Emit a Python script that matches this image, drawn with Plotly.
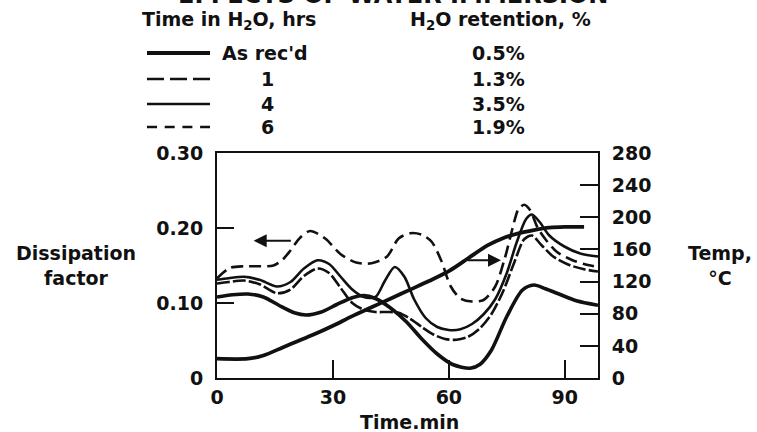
import plotly.graph_objects as go

# ---------------- data ----------------
# Dissipation factor curves (left axis), time in minutes
t_asrec = [0, 4, 8, 12, 16, 20, 23, 27, 31, 35, 38, 41, 45, 49, 53, 57, 61, 65.5, 68, 71, 75, 79, 82, 85, 88, 93, 98.6]
df_asrec = [0.108, 0.111, 0.112, 0.108, 0.097, 0.087, 0.084, 0.088, 0.098, 0.107, 0.110, 0.106, 0.093, 0.075, 0.052, 0.032, 0.018, 0.013, 0.018, 0.037, 0.082, 0.117, 0.124, 0.119, 0.113, 0.103, 0.097]

t_1h = [0, 3.4, 7, 10, 14.6, 17, 19, 21.5, 24.1, 28, 32, 36, 40, 44, 47, 50, 53, 55.5, 58, 60.5, 63, 66, 69, 72, 74.5, 76.5, 78, 79.5, 81, 83, 85, 88, 92, 95, 98.6]
df_1h = [0.133, 0.147, 0.149, 0.149, 0.150, 0.158, 0.170, 0.187, 0.196, 0.186, 0.165, 0.154, 0.153, 0.162, 0.186, 0.193, 0.191, 0.182, 0.157, 0.122, 0.106, 0.102, 0.104, 0.122, 0.160, 0.200, 0.225, 0.231, 0.224, 0.200, 0.185, 0.168, 0.157, 0.152, 0.148]

t_4h = [0, 3, 7, 11, 15.5, 19, 22.5, 26, 29, 32, 35, 38, 41, 43.5, 46, 48.5, 51, 54, 57, 60, 63, 66, 69, 72, 75, 77.5, 80, 81.5, 83.5, 86, 90, 94, 98.6]
df_4h = [0.131, 0.133, 0.135, 0.131, 0.122, 0.128, 0.146, 0.157, 0.152, 0.135, 0.118, 0.108, 0.108, 0.130, 0.148, 0.135, 0.105, 0.080, 0.068, 0.064, 0.065, 0.072, 0.085, 0.105, 0.140, 0.180, 0.212, 0.218, 0.208, 0.190, 0.175, 0.166, 0.162]

t_6h = [0, 3, 7, 11, 15.5, 19, 22.5, 26, 29, 32, 35, 38, 41, 44, 47, 50, 53, 56, 59, 62, 65, 68, 71, 74, 77, 79.5, 81.5, 84, 87, 91, 95, 98.6]
df_6h = [0.126, 0.128, 0.130, 0.125, 0.113, 0.118, 0.136, 0.146, 0.140, 0.120, 0.100, 0.091, 0.088, 0.088, 0.087, 0.079, 0.068, 0.058, 0.052, 0.051, 0.055, 0.066, 0.085, 0.115, 0.155, 0.185, 0.190, 0.177, 0.162, 0.151, 0.145, 0.142]

# Temperature curve (right axis)
t_temp = [0, 8, 12, 17, 21, 25, 30, 35, 40, 45, 50, 55, 60, 65, 70, 74, 78, 82, 86, 90, 95]
temp_c = [24, 24, 28, 38, 46, 54, 65, 77, 88, 99, 110, 121, 133, 149, 165, 174, 180, 184, 187, 188, 188]

# Legend table
legend_labels = ["As rec'd", "1", "4", "6"]
retention = ["0.5%", "1.3%", "3.5%", "1.9%"]

# Axis ticks
x_ticks = [0, 30, 60, 90]
y_ticks = [0, 0.10, 0.20, 0.30]
y_ticktext = ["0", "0.10", "0.20", "0.30"]
y2_ticks = [0, 40, 80, 120, 160, 200, 240, 280]

# ---------------- layout helpers ----------------
W, H = 757, 432
L, R, T, B = 217, 159, 153, 54
PW, PH = W - L - R, H - T - B


def px(xp):
    return (xp - L) / PW


def py(yp):
    return (H - B - yp) / PH


FONT = "DejaVu Sans"
BLACK = "#111111"

fig = go.Figure()

dash_1h = "12px,6px"
dash_6h = "13px,3px"

fig.add_trace(go.Scatter(x=t_1h, y=df_1h, mode="lines",
                         line=dict(color=BLACK, width=2.6, dash=dash_1h, shape="spline", smoothing=0.8)))
fig.add_trace(go.Scatter(x=t_6h, y=df_6h, mode="lines",
                         line=dict(color=BLACK, width=2.6, dash=dash_6h, shape="spline", smoothing=0.8)))
fig.add_trace(go.Scatter(x=t_4h, y=df_4h, mode="lines",
                         line=dict(color=BLACK, width=2.6, shape="spline", smoothing=0.8)))
fig.add_trace(go.Scatter(x=t_asrec, y=df_asrec, mode="lines",
                         line=dict(color=BLACK, width=3.6, shape="spline", smoothing=0.8)))
fig.add_trace(go.Scatter(x=t_temp, y=temp_c, mode="lines", yaxis="y2",
                         line=dict(color=BLACK, width=3.8, shape="spline", smoothing=0.8)))

tickfont = dict(family=FONT, size=19, color=BLACK, weight="bold")

fig.update_layout(
    width=W, height=H,
    margin=dict(l=L, r=R, t=T, b=B, pad=0),
    paper_bgcolor="white", plot_bgcolor="white",
    showlegend=False,
    xaxis=dict(range=[0, 98.6], tickvals=x_ticks, ticks="inside", ticklen=18, tickwidth=2,
               tickcolor=BLACK, showline=True, linecolor=BLACK, linewidth=2, mirror=True,
               showgrid=False, zeroline=False, tickfont=tickfont, ticklabelstandoff=1),
    yaxis=dict(range=[0, 0.30], tickvals=y_ticks, ticktext=y_ticktext, ticks="inside", ticklen=17,
               tickwidth=2, tickcolor=BLACK, showline=True, linecolor=BLACK, linewidth=2,
               showgrid=False, zeroline=False, tickfont=tickfont, ticklabelstandoff=8),
    yaxis2=dict(range=[0, 280], tickvals=y2_ticks, overlaying="y", side="right", ticks="inside",
                ticklen=18, tickwidth=2, tickcolor=BLACK, showline=True, linecolor=BLACK, linewidth=2,
                showgrid=False, zeroline=False, tickfont=tickfont, ticklabelstandoff=8),
)

ann_font = dict(family=FONT, size=19, color=BLACK, weight="bold")
annotations = []

# clipped title at very top (only the bottom of the glyphs shows, as in the reference)
annotations.append(dict(text="EFFECTS OF WATER IMMERSION", xref="paper", yref="paper",
                        x=px(393), y=py(11), xanchor="center", yanchor="bottom", showarrow=False,
                        font=dict(family=FONT, size=24, color=BLACK, weight="bold")))

# axis titles
annotations.append(dict(text="Dissipation<br>factor", xref="paper", yref="paper", x=px(76), y=py(265),
                        xanchor="center", yanchor="middle", showarrow=False, font=ann_font))
annotations.append(dict(text="Temp,<br>°C", xref="paper", yref="paper", x=px(720), y=py(265),
                        xanchor="center", yanchor="middle", showarrow=False, font=ann_font))
annotations.append(dict(text="Time.min", xref="paper", yref="paper", x=px(409), y=py(422),
                        xanchor="center", yanchor="middle", showarrow=False, font=ann_font))

# legend headers
annotations.append(dict(text="Time in H<sub>2</sub>O, hrs", xref="paper", yref="paper", x=px(140), y=py(20),
                        xanchor="left", yanchor="middle", showarrow=False, font=ann_font))
annotations.append(dict(text="H<sub>2</sub>O retention, %", xref="paper", yref="paper", x=px(500), y=py(20),
                        xanchor="center", yanchor="middle", showarrow=False, font=ann_font))

row_y = [53, 79, 104, 127]
shapes = []
sample_styles = [("solid", 4.0), ("17px,6px", 2.6), ("solid", 2.6), ("10px,7.7px", 2.6)]
for i, (lab, ret) in enumerate(zip(legend_labels, retention)):
    yy = py(row_y[i])
    if i == 0:
        annotations.append(dict(text=lab, xref="paper", yref="paper", x=px(220), y=yy,
                                xanchor="left", yanchor="middle", showarrow=False, font=ann_font))
    else:
        annotations.append(dict(text=lab, xref="paper", yref="paper", x=px(267), y=yy,
                                xanchor="center", yanchor="middle", showarrow=False, font=ann_font))
    annotations.append(dict(text=ret, xref="paper", yref="paper", x=px(498), y=yy,
                            xanchor="center", yanchor="middle", showarrow=False, font=ann_font))
    d, w = sample_styles[i]
    shapes.append(dict(type="line", xref="paper", yref="paper", x0=px(147), x1=px(210),
                       y0=yy, y1=yy, line=dict(color=BLACK, width=w, dash=d)))

# arrows indicating which axis
annotations.append(dict(x=9.5, y=0.183, ax=19.5, ay=0.183, xref="x", yref="y", axref="x", ayref="y",
                        text="", showarrow=True, arrowhead=2, arrowsize=1.3, arrowwidth=2, arrowcolor=BLACK))
annotations.append(dict(x=73.5, y=0.157, ax=64.5, ay=0.157, xref="x", yref="y", axref="x", ayref="y",
                        text="", showarrow=True, arrowhead=2, arrowsize=1.3, arrowwidth=2, arrowcolor=BLACK))

fig.update_layout(annotations=annotations, shapes=shapes)

fig.write_html("out.html")
